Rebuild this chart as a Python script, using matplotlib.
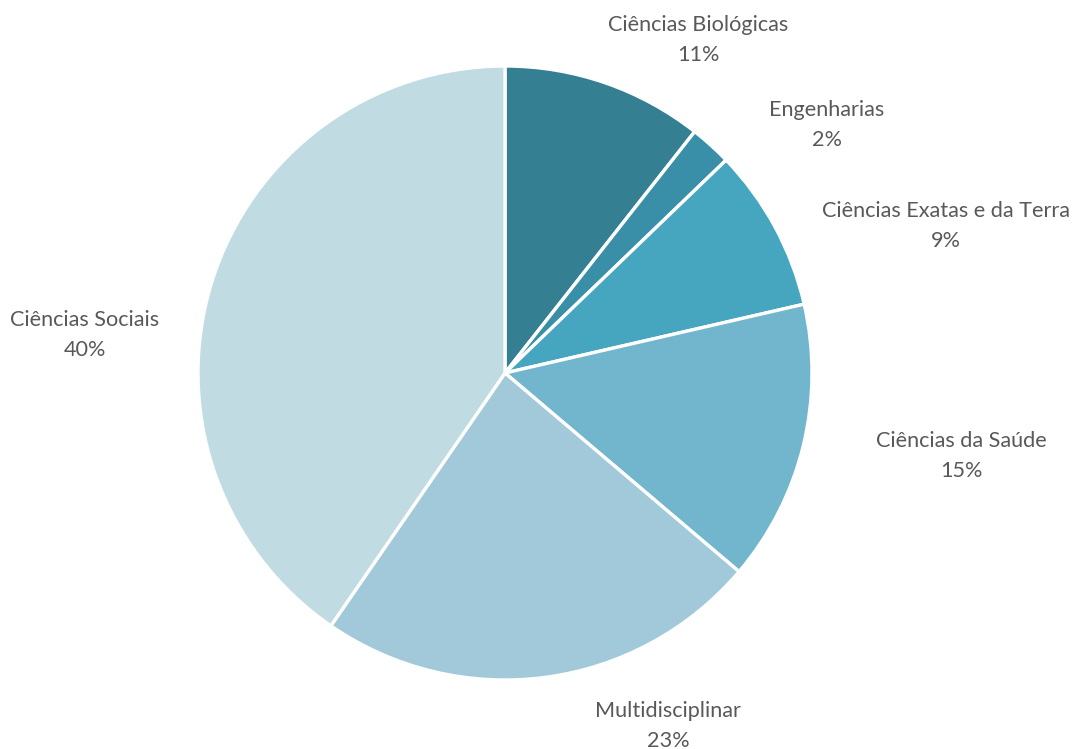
import matplotlib.pyplot as plt

categories = ['Ciências Biológicas', 'Engenharias', 'Ciências Exatas e da Terra',
              'Ciências da Saúde', 'Multidisciplinar', 'Ciências Sociais']
values = [10.6, 2.2, 8.6, 14.8, 23.4, 40.4]
pct_labels = ['11%', '2%', '9%', '15%', '23%', '40%']

colors = ['#357F93', '#3A8FA8', '#46A5BF', '#71B6CC', '#A2C9D9', '#C1DBE3']
# label centres in pie-radius units (Excel outside-end placement)
label_pos = [(0.629, 1.085), (1.049, 0.808), (1.436, 0.479),
             (1.485, -0.270), (0.531, -1.150), (-1.368, 0.124)]

plt.rcParams['font.family'] = ['Lato', 'DejaVu Sans']

fig = plt.figure(figsize=(10.73, 7.49), dpi=100)
ax = fig.add_axes([0, 0, 1, 1])

wedges, _ = ax.pie(values, colors=colors, startangle=90, counterclock=False,
                   radius=1.0, wedgeprops=dict(edgecolor='white', linewidth=2.4))

for (x, y), cat, pct in zip(label_pos, categories, pct_labels):
    ax.text(x, y, cat + '\n' + pct, ha='center', va='center',
            fontsize=15.6, color='#595959', linespacing=1.62)

ax.set_xlim(-505 / 307, (1073 - 505) / 307)
ax.set_ylim((373 - 749) / 307, 373 / 307)
ax.set_aspect('auto')
ax.axis('off')

fig.savefig('out.png', dpi=100)
